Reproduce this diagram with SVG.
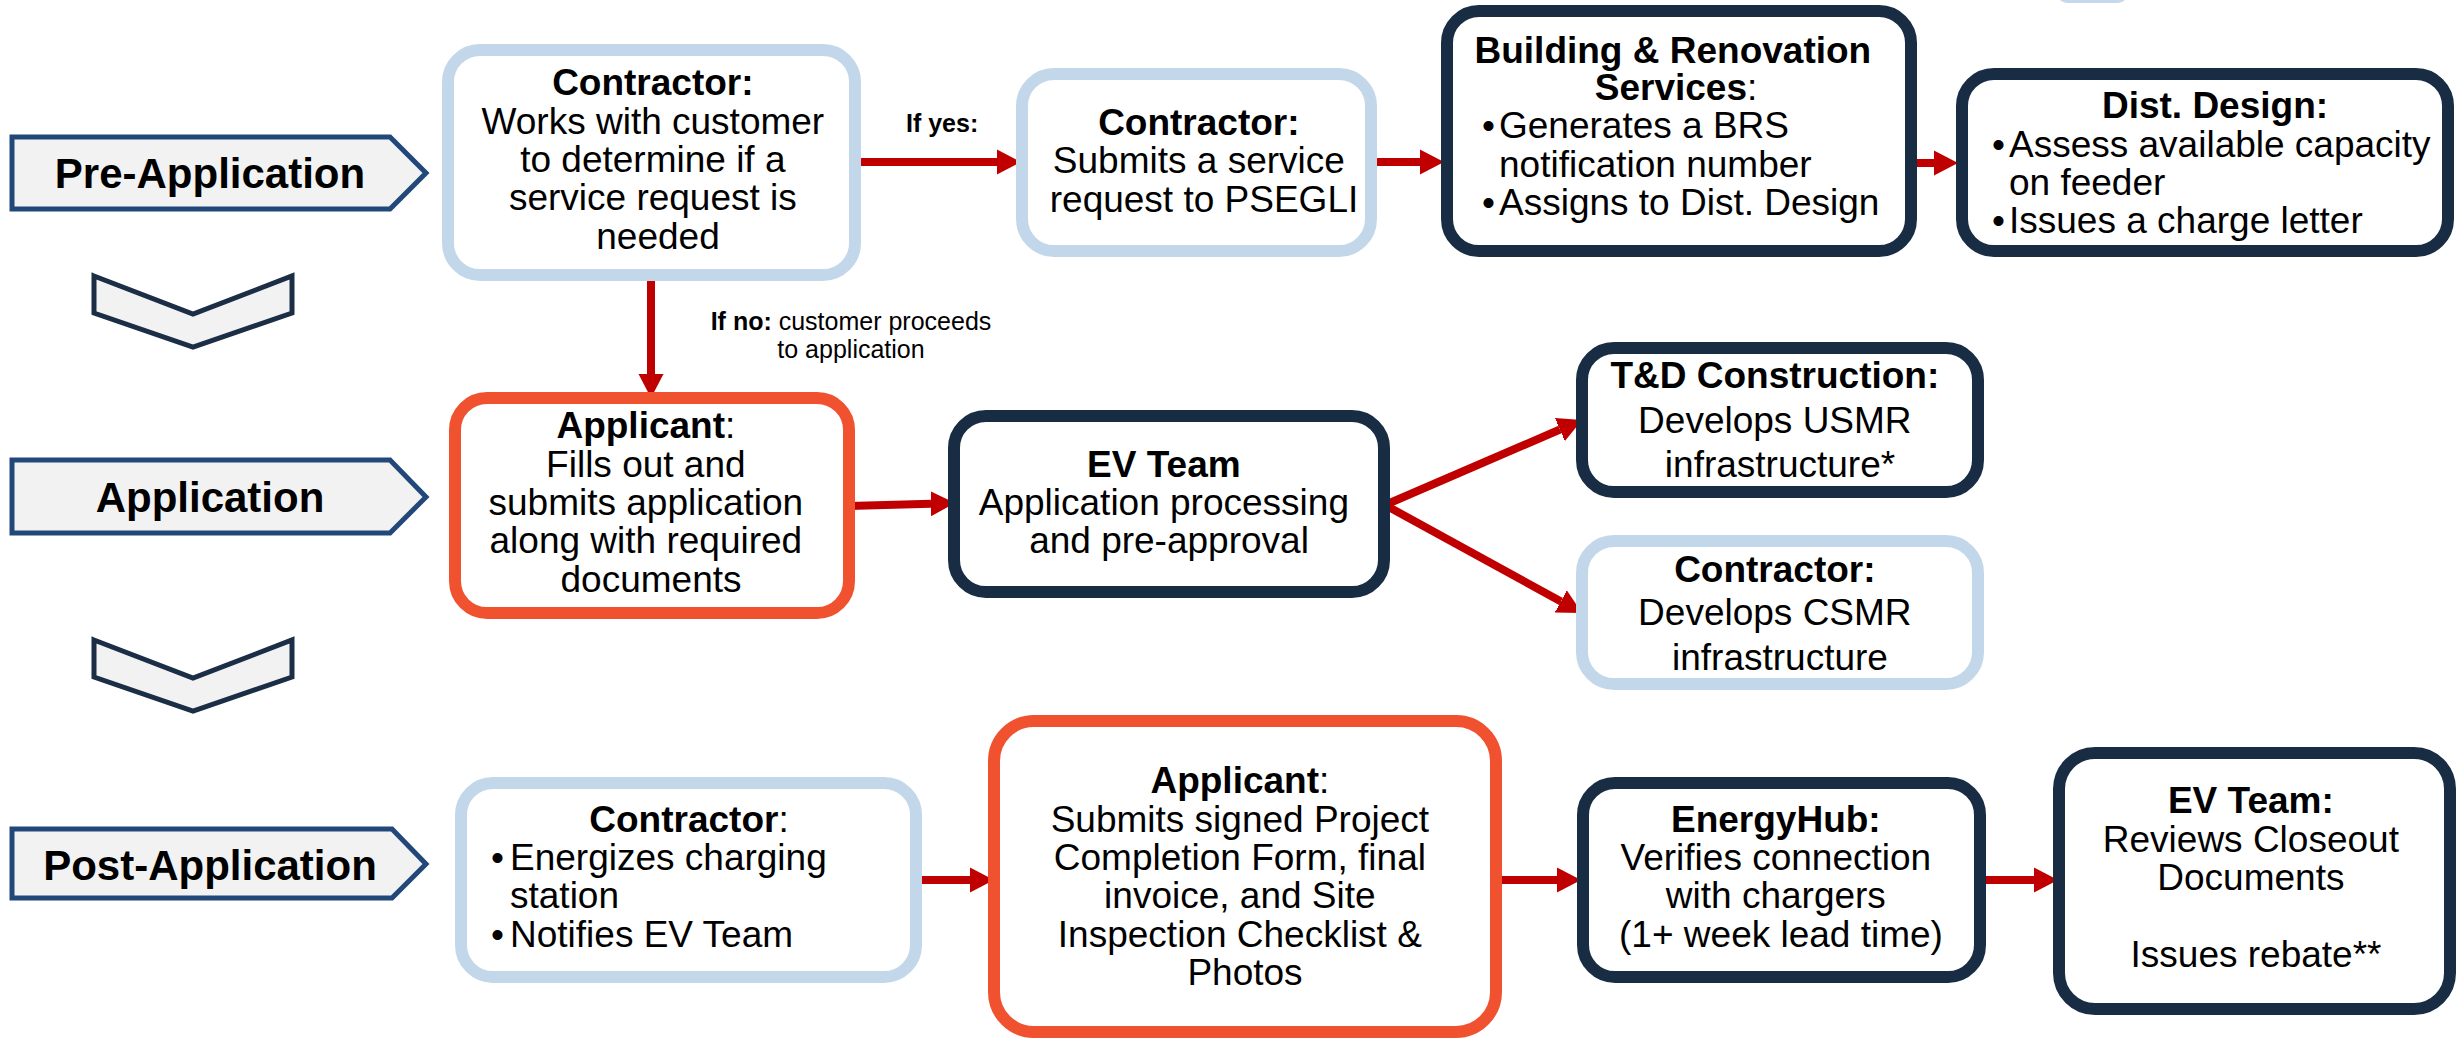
<svg xmlns="http://www.w3.org/2000/svg" width="2456" height="1038" viewBox="0 0 2456 1038">
  <style>
    text { font-family: "Liberation Sans", Arial, sans-serif; fill: #000; }
    .t { font-size: 37px; }
    .c { text-anchor: middle; }
    .b { font-weight: bold; }
    .stage { fill: #f2f2f2; stroke: #22487a; stroke-width: 5; stroke-linejoin: miter; }
    .stage-t { font-size: 42px; font-weight: bold; text-anchor: middle; }
    .down { fill: #f2f2f2; stroke: #1b2e46; stroke-width: 5; stroke-linejoin: miter; }
    .box { fill: #fff; stroke-width: 12; }
    .lb { stroke: #c3d7eb; }
    .nv { stroke: #182c44; }
    .or { stroke: #f05230; }
    .conn line { stroke: #c00000; stroke-width: 8; marker-end: url(#ah); }
    .small { font-size: 25px; }
  </style>
  <defs>
    <marker id="ah" viewBox="0 -13 24 26" refX="0" refY="0" markerWidth="24" markerHeight="26" markerUnits="userSpaceOnUse" orient="auto">
      <path d="M-1,-13 L24,0 L-1,13 z" fill="#c00000"/>
    </marker>
  </defs>

  <rect width="2456" height="1038" fill="#fff"/>

  <!-- partial shape at the top edge -->
  <rect x="2057" y="-40" width="71" height="43" rx="10" fill="#c5d9ed"/>

  <!-- stage labels -->
  <g id="stage-pre">
    <polygon class="stage" points="12,137 390,137 426,173 390,209 12,209"/>
    <text class="stage-t" x="210" y="188">Pre-Application</text>
  </g>
  <g id="stage-app">
    <polygon class="stage" points="12,460 390,460 426,497 390,533 12,533"/>
    <text class="stage-t" x="210" y="512">Application</text>
  </g>
  <g id="stage-post">
    <polygon class="stage" points="12,829 392,829 426,864 392,898 12,898"/>
    <text class="stage-t" x="210" y="880">Post-Application</text>
  </g>
  <g id="down-1">
    <polygon class="down" points="94,276 193,314 292,276 292,313 193,347 94,313"/>
  </g>
  <g id="down-2">
    <polygon class="down" points="94,640 193,678 292,640 292,677 193,711 94,677"/>
  </g>

  <!-- connectors -->
  <g class="conn" id="connectors">
    <line x1="855" y1="162" x2="997" y2="162"/>
    <line x1="1371" y1="162" x2="1420" y2="162"/>
    <line x1="1911" y1="163" x2="1934" y2="163"/>
    <line x1="651" y1="275" x2="651" y2="374"/>
    <line x1="849" y1="506" x2="931" y2="503.7"/>
    <line x1="1385" y1="505" x2="1560" y2="429.5"/>
    <line x1="1385" y1="505" x2="1561" y2="601.5"/>
    <line x1="915" y1="880" x2="970" y2="880"/>
    <line x1="1497" y1="880" x2="1557" y2="880"/>
    <line x1="1980" y1="880" x2="2034" y2="880"/>
  </g>

  <!-- connector labels -->
  <text class="small b" x="906" y="132">If yes:</text>
  <text class="small c" x="851" y="330"><tspan class="b">If no:</tspan> customer proceeds</text>
  <text class="small c" x="851" y="358">to application</text>

  <!-- Pre-Application row -->
  <g id="contractor-check">
    <rect class="box lb" x="448" y="50" width="407" height="225" rx="32"/>
    <text class="t c" x="658">
      <tspan class="b" x="658" y="95">Contractor:</tspan>
      <tspan x="658" y="134">Works with customer</tspan>
      <tspan x="658" y="172">to determine if a</tspan>
      <tspan x="658" y="210">service request is</tspan>
      <tspan x="658" y="249">needed</tspan>
    </text>
  </g>
  <g id="contractor-request">
    <rect class="box lb" x="1022" y="74" width="349" height="177" rx="32"/>
    <text class="t c">
      <tspan class="b" x="1204" y="135">Contractor:</tspan>
      <tspan x="1204" y="173">Submits a service</tspan>
      <tspan x="1204" y="212">request to PSEGLI</tspan>
    </text>
  </g>
  <g id="brs">
    <rect class="box nv" x="1447" y="11" width="464" height="240" rx="32"/>
    <text class="t c">
      <tspan class="b" x="1678" y="63">Building &amp; Renovation</tspan>
      <tspan x="1676" y="100"><tspan class="b">Services</tspan>:</tspan>
    </text>
    <text class="t">
      <tspan x="1482" y="138">•</tspan><tspan x="1499" y="138">Generates a BRS</tspan>
      <tspan x="1499" y="177">notification number</tspan>
      <tspan x="1482" y="215">•</tspan><tspan x="1499" y="215">Assigns to Dist. Design</tspan>
    </text>
  </g>
  <g id="dist-design">
    <rect class="box nv" x="1962" y="74" width="486" height="177" rx="32"/>
    <text class="t c b" x="2215" y="118">Dist. Design:</text>
    <text class="t">
      <tspan x="1992" y="157">•</tspan><tspan x="2009" y="157">Assess available capacity</tspan>
      <tspan x="2009" y="195">on feeder</tspan>
      <tspan x="1992" y="233">•</tspan><tspan x="2009" y="233">Issues a charge letter</tspan>
    </text>
  </g>

  <!-- Application row -->
  <g id="applicant-submit">
    <rect class="box or" x="455" y="398" width="394" height="215" rx="32"/>
    <text class="t c">
      <tspan x="651" y="438"><tspan class="b">Applicant</tspan>:</tspan>
      <tspan x="651" y="477">Fills out and</tspan>
      <tspan x="651" y="515">submits application</tspan>
      <tspan x="651" y="553">along with required</tspan>
      <tspan x="651" y="592">documents</tspan>
    </text>
  </g>
  <g id="ev-team-review">
    <rect class="box nv" x="954" y="416" width="430" height="176" rx="32"/>
    <text class="t c">
      <tspan class="b" x="1169" y="477">EV Team</tspan>
      <tspan x="1169" y="515">Application processing</tspan>
      <tspan x="1169" y="553">and pre-approval</tspan>
    </text>
  </g>
  <g id="td-construction">
    <rect class="box nv" x="1582" y="348" width="396" height="144" rx="32"/>
    <text class="t c">
      <tspan class="b" x="1780" y="388">T&amp;D Construction:</tspan>
      <tspan x="1780" y="433">Develops USMR</tspan>
      <tspan x="1780" y="477">infrastructure*</tspan>
    </text>
  </g>
  <g id="contractor-csmr">
    <rect class="box lb" x="1582" y="541" width="396" height="143" rx="32"/>
    <text class="t c">
      <tspan class="b" x="1780" y="582">Contractor:</tspan>
      <tspan x="1780" y="625">Develops CSMR</tspan>
      <tspan x="1780" y="670">infrastructure</tspan>
    </text>
  </g>

  <!-- Post-Application row -->
  <g id="contractor-energize">
    <rect class="box lb" x="461" y="783" width="455" height="194" rx="32"/>
    <text class="t c" x="689" y="832"><tspan class="b">Contractor</tspan>:</text>
    <text class="t">
      <tspan x="491" y="870">•</tspan><tspan x="510" y="870">Energizes charging</tspan>
      <tspan x="510" y="908">station</tspan>
      <tspan x="491" y="947">•</tspan><tspan x="510" y="947">Notifies EV Team</tspan>
    </text>
  </g>
  <g id="applicant-closeout">
    <rect class="box or" x="994" y="721" width="502" height="311" rx="40"/>
    <text class="t c">
      <tspan x="1245" y="793"><tspan class="b">Applicant</tspan>:</tspan>
      <tspan x="1245" y="832">Submits signed Project</tspan>
      <tspan x="1245" y="870">Completion Form, final</tspan>
      <tspan x="1245" y="908">invoice, and Site</tspan>
      <tspan x="1245" y="947">Inspection Checklist &amp;</tspan>
      <tspan x="1245" y="985">Photos</tspan>
    </text>
  </g>
  <g id="energyhub">
    <rect class="box nv" x="1583" y="783" width="397" height="194" rx="32"/>
    <text class="t c">
      <tspan class="b" x="1781" y="832">EnergyHub:</tspan>
      <tspan x="1781" y="870">Verifies connection</tspan>
      <tspan x="1781" y="908">with chargers</tspan>
      <tspan x="1781" y="947">(1+ week lead time)</tspan>
    </text>
  </g>
  <g id="ev-team-rebate">
    <rect class="box nv" x="2059" y="753" width="391" height="256" rx="36"/>
    <text class="t c">
      <tspan class="b" x="2256" y="813">EV Team:</tspan>
      <tspan x="2256" y="852">Reviews Closeout</tspan>
      <tspan x="2256" y="890">Documents</tspan>
      <tspan x="2256" y="967">Issues rebate**</tspan>
    </text>
  </g>
</svg>
